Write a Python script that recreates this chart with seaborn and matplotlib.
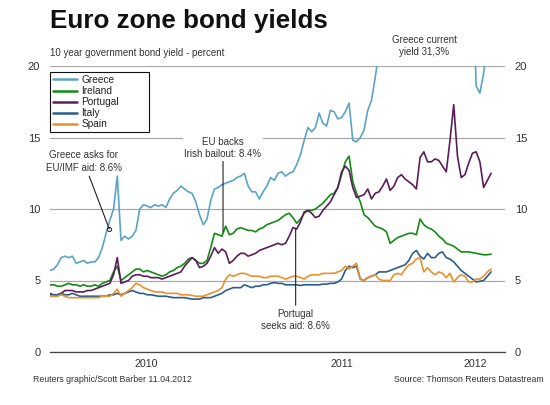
import pandas as pd
import matplotlib
matplotlib.use('Agg')
import matplotlib.pyplot as plt
import matplotlib.dates as mdates
import matplotlib.transforms as mtransforms
from matplotlib.lines import Line2D
import seaborn as sns

# weekly readings, first week of Jan 2010 to early Apr 2012
dates = pd.date_range('2010-01-01', periods=119, freq='7D')

greece = [5.7, 5.8, 6.1, 6.6, 6.7, 6.6, 6.7, 6.2, 6.3, 6.4,
          6.2, 6.3, 6.3, 6.6, 7.3, 8.3, 9.2, 10.0, 12.3, 7.8,
          8.1, 7.9, 8.1, 8.5, 10.0, 10.3, 10.2, 10.1, 10.3, 10.2,
          10.3, 10.1, 10.7, 11.1, 11.3, 11.6, 11.4, 11.2, 11.1, 10.5,
          9.6, 8.9, 9.3, 10.6, 11.4, 11.5, 11.7, 11.8, 11.9, 12.0,
          12.2, 12.3, 12.5, 11.6, 11.2, 11.2, 10.7, 11.2, 11.6, 12.2,
          12.0, 12.5, 12.6, 12.3, 12.5, 12.6, 13.1, 13.8, 14.8, 15.7,
          15.4, 15.7, 16.7, 16.0, 15.8, 16.9, 16.8, 16.3, 16.4, 16.8,
          17.4, 14.8, 14.7, 15.0, 15.5, 16.9, 17.6, 19.2, 21.0, 22.5,
          23.0, 24.0, 23.5, 24.5, 25.0, 26.0, 27.0, 28.0, 28.5, 29.0,
          30.0, 31.5, 32.5, 33.0, 34.0, 34.5, 34.0, 35.0, 34.5, 35.0,
          34.0, 33.5, 32.0, 27.0, 18.6, 18.1, 19.5, 21.5, 31.3]

ireland = [4.7, 4.7, 4.6, 4.6, 4.7, 4.8, 4.7, 4.7, 4.6, 4.7,
           4.6, 4.6, 4.7, 4.6, 4.8, 4.9, 5.0, 5.6, 6.0, 5.0,
           5.2, 5.4, 5.6, 5.8, 5.8, 5.6, 5.7, 5.6, 5.5, 5.4,
           5.3, 5.4, 5.6, 5.7, 5.9, 6.0, 6.2, 6.5, 6.6, 6.4,
           6.2, 6.2, 6.4, 7.3, 8.3, 8.2, 8.1, 8.8, 8.2, 8.3,
           8.6, 8.7, 8.6, 8.5, 8.5, 8.4, 8.6, 8.7, 8.9, 9.0,
           9.1, 9.2, 9.4, 9.6, 9.7, 9.4, 9.0, 9.3, 9.7, 9.9,
           9.9, 10.0, 10.2, 10.4, 10.7, 11.0, 11.1, 11.5, 12.4, 13.3,
           13.7, 11.9, 11.1, 10.5, 9.6, 9.4, 9.1, 8.8, 8.7, 8.6,
           8.4, 7.6, 7.8, 8.0, 8.1, 8.2, 8.3, 8.3, 8.2, 9.3,
           8.9, 8.7, 8.6, 8.4, 8.1, 7.9, 7.6, 7.5, 7.4, 7.2,
           7.0, 7.0, 7.0, 6.95, 6.9, 6.85, 6.8, 6.8, 6.85]

portugal = [4.0, 4.0, 4.0, 4.1, 4.3, 4.3, 4.3, 4.2, 4.2, 4.2,
            4.3, 4.3, 4.4, 4.5, 4.6, 4.7, 4.8, 5.4, 6.6, 4.8,
            4.9, 5.0, 5.3, 5.4, 5.4, 5.3, 5.3, 5.2, 5.2, 5.2,
            5.1, 5.2, 5.3, 5.4, 5.5, 5.6, 6.0, 6.3, 6.6, 6.4,
            5.9, 6.0, 6.2, 6.7, 7.3, 6.9, 7.2, 7.0, 6.2, 6.4,
            6.7, 6.9, 6.9, 6.7, 6.8, 6.9, 7.1, 7.2, 7.3, 7.4,
            7.5, 7.6, 7.5, 7.6, 8.1, 8.7, 8.6, 9.1, 9.8, 9.9,
            9.7, 9.4, 9.5, 9.9, 10.2, 10.5, 11.0, 11.5, 12.6, 13.0,
            12.7, 11.5, 10.8, 10.9, 11.0, 11.4, 10.7, 11.1, 11.2, 11.6,
            12.1, 11.3, 11.6, 12.2, 12.4, 12.1, 11.9, 11.7, 11.4, 13.6,
            14.0, 13.3, 13.3, 13.5, 13.4, 13.0, 12.6, 14.8, 17.3, 13.7,
            12.2, 12.4, 13.2, 13.9, 14.0, 13.3, 11.5, 12.0, 12.5]

italy = [4.1, 4.0, 4.0, 4.1, 4.0, 4.0, 4.1, 4.0, 3.9, 3.9,
         3.9, 3.9, 3.9, 3.9, 3.9, 3.9, 4.0, 4.0, 4.1, 4.0,
         4.1, 4.2, 4.3, 4.2, 4.1, 4.1, 4.0, 4.0, 3.95, 3.9,
         3.9, 3.9, 3.85, 3.8, 3.8, 3.8, 3.8, 3.75, 3.7, 3.7,
         3.7, 3.8, 3.8, 3.8, 3.9, 4.0, 4.1, 4.3, 4.4, 4.5,
         4.5, 4.5, 4.7, 4.6, 4.5, 4.6, 4.6, 4.7, 4.7, 4.8,
         4.85, 4.8, 4.8, 4.7, 4.7, 4.7, 4.7, 4.65, 4.7, 4.7,
         4.7, 4.7, 4.7, 4.75, 4.75, 4.8, 4.8, 4.9, 5.1, 5.7,
         6.0, 5.9, 6.0, 5.1, 5.0, 5.2, 5.3, 5.4, 5.6, 5.6,
         5.6, 5.7, 5.8, 5.9, 6.0, 6.1, 6.4, 6.9, 7.1, 6.7,
         6.5, 6.9, 6.6, 6.6, 6.9, 7.0, 6.6, 6.5, 6.3, 6.0,
         5.7, 5.5, 5.3, 5.1, 4.9, 4.95, 5.0, 5.3, 5.6]

spain = [3.9, 3.9, 3.9, 4.0, 3.9, 3.8, 3.8, 3.8, 3.8, 3.8,
         3.8, 3.8, 3.8, 3.8, 3.9, 3.9, 3.9, 4.1, 4.4, 3.9,
         4.1, 4.3, 4.5, 4.8, 4.7, 4.5, 4.4, 4.3, 4.2, 4.2,
         4.2, 4.1, 4.1, 4.1, 4.1, 4.0, 4.0, 4.0, 3.95, 3.9,
         3.9, 3.9, 4.0, 4.1, 4.2, 4.3, 4.5, 5.1, 5.4, 5.3,
         5.4, 5.5, 5.5, 5.4, 5.3, 5.3, 5.3, 5.2, 5.2, 5.3,
         5.3, 5.3, 5.2, 5.1, 5.2, 5.3, 5.3, 5.2, 5.1, 5.3,
         5.4, 5.4, 5.4, 5.5, 5.5, 5.5, 5.5, 5.6, 5.7, 6.0,
         5.8, 6.0, 6.2, 5.1, 5.0, 5.2, 5.3, 5.4, 5.1, 5.0,
         5.0, 5.0, 5.4, 5.5, 5.4, 5.8, 6.1, 6.2, 6.5, 6.6,
         5.6, 5.9, 5.6, 5.4, 5.6, 5.5, 5.2, 5.5, 4.9, 5.2,
         5.4, 5.3, 4.9, 4.9, 5.1, 5.1, 5.3, 5.6, 5.8]

countries = ['Greece', 'Ireland', 'Portugal', 'Italy', 'Spain']
colors = ['#5ba4c6', '#138a13', '#5a1d5c', '#2b5d8c', '#e8912d']

year_labels = ['2010', '2011', '2012']
year_label_pos = ['2010-07-01', '2011-07-01', '2012-03-08']

sns.set_style('white')
plt.rcParams['font.family'] = ['Liberation Sans', 'DejaVu Sans']

df = pd.DataFrame({'date': dates, 'Greece': greece, 'Ireland': ireland,
                   'Portugal': portugal, 'Italy': italy, 'Spain': spain})
long_df = df.melt(id_vars='date', var_name='country', value_name='yield')

fig = plt.figure(figsize=(5.5, 4.05), dpi=100)
ax = fig.add_axes([50 / 550, 53 / 405, 455 / 550, 286 / 405])

sns.lineplot(data=long_df, x='date', y='yield', hue='country', hue_order=countries,
             palette=colors, linewidth=1.2, legend=False, ax=ax)

ax.set_xlim(pd.Timestamp('2010-01-01'), pd.Timestamp('2012-05-02'))
ax.set_ylim(0, 20)
ax.set_xlabel('')
ax.set_ylabel('')

for s in ['top', 'right', 'left']:
    ax.spines[s].set_visible(False)
ax.spines['bottom'].set_color('#444444')
ax.spines['bottom'].set_linewidth(0.9)

# x axis: long ticks at year starts, short at quarters, year names in between
ax.set_xticks(pd.to_datetime(['2010-01-01', '2011-01-01', '2012-01-01']))
ax.set_xticks(pd.date_range('2010-01-01', '2012-04-01', freq='QS'), minor=True)
ax.xaxis.set_major_formatter(plt.NullFormatter())
ax.xaxis.set_minor_formatter(plt.NullFormatter())
ax.tick_params(axis='x', which='major', length=6, width=0.8, color='#444444')
ax.tick_params(axis='x', which='minor', length=4, width=0.8, color='#444444')

trans = mtransforms.blended_transform_factory(ax.transData, ax.transAxes)
for pos, lab in zip(year_label_pos, year_labels):
    ax.text(mdates.date2num(pd.Timestamp(pos)), -0.042, lab, transform=trans,
            ha='center', va='center', fontsize=7.7, color='#333333')

ax.set_yticks([0, 5, 10, 15, 20])
ax.tick_params(axis='y', length=0, labelleft=True, labelright=True,
               labelsize=8, labelcolor='#333333', pad=7)
ax.grid(axis='y', color='#aaaaaa', linewidth=0.9)
ax.grid(axis='x', visible=False)
ax.set_axisbelow(True)

# legend
handles = [Line2D([], [], color=c, lw=1.8) for c in colors]
leg = ax.legend(handles, countries, loc='upper left', mode='expand',
                bbox_to_anchor=(0, 0, 99 / 455, 1 - 6 / 286), borderaxespad=0,
                frameon=True, fancybox=False, edgecolor='#111111', framealpha=1,
                fontsize=7.3, handlelength=2.4, handletextpad=0.4,
                labelspacing=0.1, borderpad=0.3)
leg.get_frame().set_linewidth(0.8)
for t in leg.get_texts():
    t.set_color('#222222')

# annotations
txt_kw = dict(ha='center', va='center', fontsize=7, color='#333333', linespacing=1.35)
line_kw = dict(arrowstyle='-', color='#222222', lw=0.8, shrinkA=0, shrinkB=0)

ask_date = pd.Timestamp('2010-04-22')
ax.annotate('Greece asks for\nEU/IMF aid: 8.6%', xy=(ask_date, 8.6),
            xytext=(pd.Timestamp('2010-03-05'), 13.32), arrowprops=line_kw, **txt_kw)
ax.plot([ask_date], [8.6], marker='o', ms=3, mfc='white', mec='#222222', mew=0.7)

ax.annotate('EU backs\nIrish bailout: 8.4%', xy=(pd.Timestamp('2010-11-21'), 8.4),
            xytext=(pd.Timestamp('2010-11-21'), 14.27), arrowprops=line_kw,
            bbox=dict(boxstyle='square,pad=0.15', fc='white', ec='none'), **txt_kw)

ax.annotate('Portugal\nseeks aid: 8.6%', xy=(pd.Timestamp('2011-04-06'), 8.6),
            xytext=(pd.Timestamp('2011-04-06'), 2.24), arrowprops=line_kw, **txt_kw)

ax.text(pd.Timestamp('2011-12-03'), 21.4, 'Greece current\nyield 31,3%', **txt_kw)

# titles and footers
fig.text(50 / 550, 1 - 28 / 405, 'Euro zone bond yields', fontsize=18.7,
         fontweight='bold', color='#111111', va='baseline')
fig.text(50 / 550, 1 - 56 / 405, '10 year government bond yield - percent',
         fontsize=7.0, color='#333333', va='baseline')
fig.text(33 / 550, 1 - 379 / 405, 'Reuters graphic/Scott Barber 11.04.2012',
         fontsize=6.3, color='#333333', va='center')
fig.text(544 / 550, 1 - 380 / 405, 'Source: Thomson Reuters Datastream',
         fontsize=6.3, color='#333333', va='center', ha='right')

fig.savefig('out.png', dpi=100)
